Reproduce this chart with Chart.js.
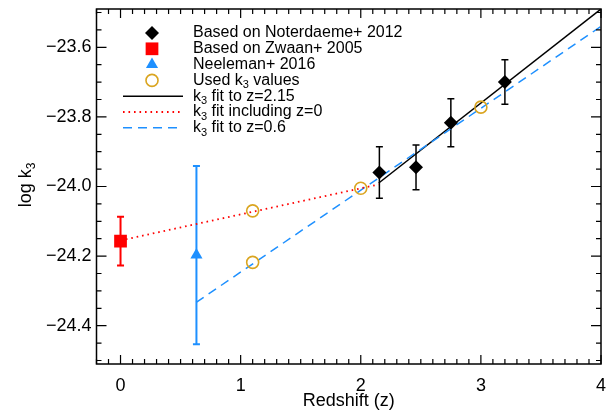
<!DOCTYPE html>
<html><head><meta charset="utf-8">
<script src="https://cdn.jsdelivr.net/npm/chart.js@4/dist/chart.umd.min.js"></script>
<style>html,body{margin:0;padding:0;background:#fff;}#wrap{width:613px;height:413px;}</style>
</head><body><div id="wrap"><canvas id="c" width="613" height="413"></canvas></div>
<script>
// ---- data ----
const noterZ = [2.155, 2.46, 2.75, 3.2];
const noterK = [-23.96, -23.945, -23.817, -23.70];
const noterErr = [0.074, 0.064, 0.069, 0.064];
const zwaanZ = [0.0];
const zwaanK = [-24.157];
const zwaanErr = [0.07];
const neeleZ = [0.632];
const neeleK = [-24.197];
const neeleErr = [0.256];
const usedZ = [1.1, 1.1, 2.0, 3.0];
const usedK = [-24.07, -24.218, -24.005, -23.772];
const fitHiZ = [2.15, 4.0];
const fitHiK = [-23.99, -23.49];
const fitZ0Z = [0.0, 2.15];
const fitZ0K = [-24.155, -23.994];
const fitLoZ = [0.63, 4.0];
const fitLoK = [-24.333, -23.54];
const xTicks = [0, 1, 2, 3, 4];
const yTicks = [-24.4, -24.2, -24.0, -23.8, -23.6];
const labels = ['Based on Noterdaeme+ 2012', 'Based on Zwaan+ 2005', 'Neeleman+ 2016',
  'Used k_3 values', 'k_3 fit to z=2.15', 'k_3 fit including z=0', 'k_3 fit to z=0.6'];

const BLUE = 'rgb(30,144,255)', RED = 'rgb(255,0,0)', GOLD = 'rgb(218,165,32)', BLACK = '#000';
const FONT = "'Liberation Sans', Arial, Helvetica, sans-serif";
const pts = (xs, ys) => xs.map((v, i) => ({x: v, y: ys[i]}));

const datasets = [
  {label: labels[0], data: pts(noterZ, noterK), errors: noterErr, pointStyle: 'rectRot', pointRadius: 7,
   backgroundColor: BLACK, borderColor: BLACK, borderWidth: 0, errWidth: 1.5, order: 0},
  {label: labels[1], data: pts(zwaanZ, zwaanK), errors: zwaanErr, pointStyle: 'rect', pointRadius: 9,
   backgroundColor: RED, borderColor: RED, borderWidth: 0, errWidth: 2, order: 0},
  {label: labels[2], data: pts(neeleZ, neeleK), errors: neeleErr, pointStyle: 'triangle', pointRadius: 7,
   backgroundColor: BLUE, borderColor: BLUE, borderWidth: 0, errWidth: 2, order: 0},
  {label: labels[3], data: pts(usedZ, usedK), pointStyle: 'circle', pointRadius: 6,
   backgroundColor: 'rgba(0,0,0,0)', borderColor: GOLD, borderWidth: 1.6, order: 0},
  {label: labels[4], data: pts(fitHiZ, fitHiK), showLine: true, pointRadius: 0, borderColor: BLACK,
   borderWidth: 1.5, order: 2},
  {label: labels[5], data: pts(fitZ0Z, fitZ0K), showLine: true, pointRadius: 0, borderColor: RED,
   borderWidth: 1.8, borderDash: [1.6, 3.9], order: 1},
  {label: labels[6], data: pts(fitLoZ, fitLoK), showLine: true, pointRadius: 0, borderColor: BLUE,
   borderWidth: 1.5, borderDash: [9, 6], order: 1}
];

function drawRich(ctx, x, y, str, size) {
  const parts = str.split(/_(\d)/);
  let cx = x;
  parts.forEach((p, i) => {
    if (!p) return;
    if (i % 2 === 1) {
      ctx.font = Math.round(size * 0.66) + 'px ' + FONT;
      ctx.fillText(p, cx, y + size * 0.3);
    } else {
      ctx.font = size + 'px ' + FONT;
      ctx.fillText(p, cx, y);
    }
    cx += ctx.measureText(p).width;
  });
}

const errorBars = {
  id: 'errorBars',
  beforeDatasetsDraw(chart) {
    const {ctx, scales: {x, y}} = chart;
    ctx.save();
    chart.data.datasets.forEach(ds => {
      if (!ds.errors) return;
      ctx.strokeStyle = ds.borderColor; ctx.lineWidth = ds.errWidth;
      ds.data.forEach((p, i) => {
        const px = x.getPixelForValue(p.x);
        const y1 = y.getPixelForValue(p.y + ds.errors[i]);
        const y2 = y.getPixelForValue(p.y - ds.errors[i]);
        ctx.beginPath();
        ctx.moveTo(px, y1); ctx.lineTo(px, y2);
        ctx.moveTo(px - 3.5, y1); ctx.lineTo(px + 3.5, y1);
        ctx.moveTo(px - 3.5, y2); ctx.lineTo(px + 3.5, y2);
        ctx.stroke();
      });
    });
    ctx.restore();
  }
};

const frame = {
  id: 'frame',
  afterDraw(chart) {
    const {ctx, chartArea: a, scales: {x, y}} = chart;
    ctx.save();
    ctx.strokeStyle = '#000'; ctx.lineWidth = 1.2;
    ctx.beginPath();
    for (let k = Math.ceil(x.min * 10 - 1e-6); k <= Math.floor(x.max * 10 + 1e-6); k++) {
      const px = x.getPixelForValue(k / 10);
      const L = (k % 10 === 0) ? 9 : 5;
      ctx.moveTo(px, a.bottom); ctx.lineTo(px, a.bottom - L);
      ctx.moveTo(px, a.top); ctx.lineTo(px, a.top + L);
    }
    for (let k = Math.ceil(y.min * 20 - 1e-6); k <= Math.floor(y.max * 20 + 1e-6); k++) {
      const py = y.getPixelForValue(k / 20);
      const L = (k % 4 === 0) ? 10 : 5;
      ctx.moveTo(a.left, py); ctx.lineTo(a.left + L, py);
      ctx.moveTo(a.right, py); ctx.lineTo(a.right - L, py);
    }
    ctx.stroke();
    ctx.lineWidth = 1.5;
    ctx.strokeRect(a.left, a.top, a.right - a.left, a.bottom - a.top);
    // y title
    ctx.fillStyle = '#000'; ctx.textBaseline = 'middle'; ctx.textAlign = 'left';
    ctx.translate(26, 185); ctx.rotate(-Math.PI / 2);
    ctx.font = '18px ' + FONT;
    const w = ctx.measureText('log k').width + ctx.measureText('3').width * 0.66;
    drawRich(ctx, -w / 2, 0, 'log k_3', 18);
    ctx.restore();
    // legend
    ctx.save();
    ctx.textBaseline = 'middle'; ctx.textAlign = 'left'; ctx.fillStyle = '#000';
    const sx = 152, tx = 193, y0 = 33, dy = 15.8;
    chart.data.datasets.forEach((ds, i) => {
      const ry = y0 + i * dy;
      if (ds.showLine) {
        ctx.save();
        ctx.strokeStyle = ds.borderColor; ctx.lineWidth = ds.borderWidth;
        ctx.setLineDash(ds.borderDash || []);
        ctx.beginPath(); ctx.moveTo(123, ry); ctx.lineTo(183, ry); ctx.stroke();
        ctx.restore();
      } else {
        ctx.save();
        ctx.fillStyle = ds.backgroundColor; ctx.strokeStyle = ds.borderColor; ctx.lineWidth = ds.borderWidth;
        Chart.helpers.drawPoint(ctx, {pointStyle: ds.pointStyle, radius: ds.pointRadius, borderWidth: ds.borderWidth, rotation: 0}, sx, ry);
        ctx.restore();
      }
      ctx.fillStyle = '#000';
      drawRich(ctx, tx, ry, ds.label, 16);
    });
    ctx.restore();
  }
};

new Chart(document.getElementById('c'), {
  type: 'scatter',
  data: {datasets},
  options: {
    responsive: false, animation: false, devicePixelRatio: 1,
    layout: {padding: {left: 0, right: 12, top: 5, bottom: 0}},
    plugins: {legend: {display: false}, tooltip: {enabled: false}},
    scales: {
      x: {
        type: 'linear', min: -0.2, max: 4,
        afterBuildTicks: s => { s.ticks = xTicks.map(v => ({value: v})); },
        afterFit: s => { s.height = 49; s.paddingLeft = 0; s.paddingRight = 0; },
        grid: {display: false, drawTicks: false}, border: {display: false},
        ticks: {color: '#000', font: {family: FONT, size: 18}, padding: 11, maxRotation: 0,
                callback: v => String(v)},
        title: {display: true, text: 'Redshift (z)', color: '#000', font: {family: FONT, size: 18},
                padding: {top: 0, bottom: 1}}
      },
      y: {
        type: 'linear', min: -24.51, max: -23.49,
        afterBuildTicks: s => { s.ticks = yTicks.map(v => ({value: v})); },
        afterFit: s => { s.width = 96.5; s.paddingTop = 0; s.paddingBottom = 0; },
        grid: {display: false, drawTicks: false}, border: {display: false},
        ticks: {color: '#000', font: {family: FONT, size: 18}, padding: 5,
                callback: v => (v < 0 ? '\u2212' : '') + Math.abs(v).toFixed(1)}
      }
    }
  },
  plugins: [errorBars, frame]
});
</script></body></html>
